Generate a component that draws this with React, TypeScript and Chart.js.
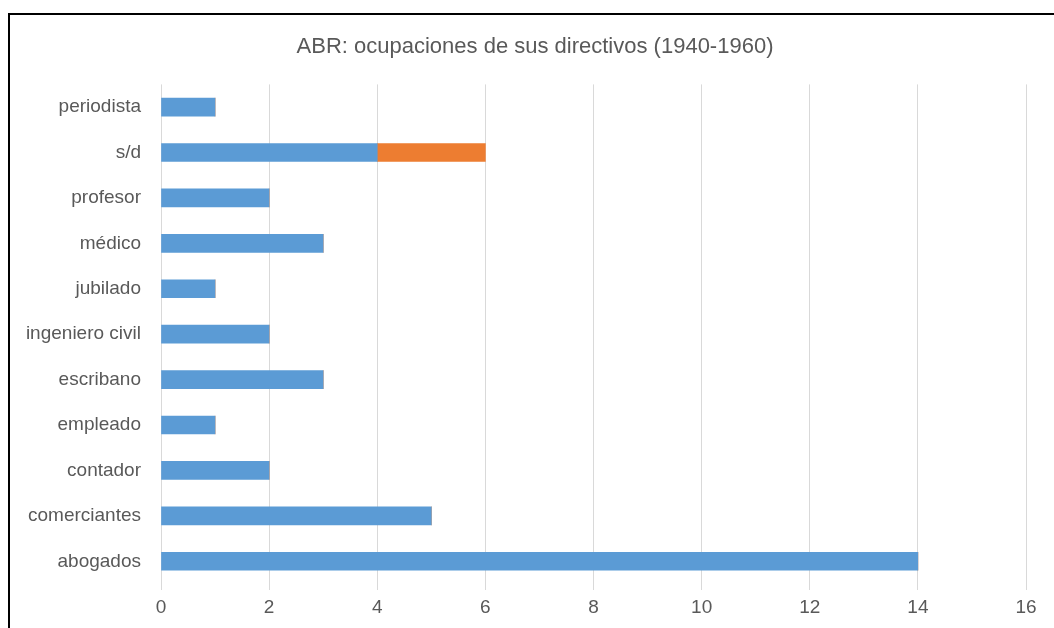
import React, { useEffect, useRef } from "react";
import { Chart, registerables } from "chart.js";

Chart.register(...registerables);

const categories = [
  "periodista",
  "s/d",
  "profesor",
  "médico",
  "jubilado",
  "ingeniero civil",
  "escribano",
  "empleado",
  "contador",
  "comerciantes",
  "abogados",
];
const seriesBlue = [1, 4, 2, 3, 1, 2, 3, 1, 2, 5, 14];
const seriesOrange = [0, 2, 0, 0, 0, 0, 0, 0, 0, 0, 0];
const xTicks = [0, 2, 4, 6, 8, 10, 12, 14, 16];
const title = "ABR: ocupaciones de sus directivos (1940-1960)";

export default function App() {
  const ref = useRef<HTMLCanvasElement | null>(null);

  useEffect(() => {
    if (!ref.current) return;
    const textColor = "#595959";
    const font = "'Liberation Sans', Arial, Helvetica, sans-serif";
    const shiftTitle = {
      id: "shiftTitle",
      afterLayout(chart: any) {
        const tb = chart.titleBlock;
        if (tb) tb.left += 44;
      },
    };
    const chart = new Chart(ref.current, {
      type: "bar",
      data: {
        labels: categories,
        datasets: [
          {
            label: "Serie 1",
            data: seriesBlue,
            backgroundColor: "#5B9BD5",
            barThickness: 18,
          },
          {
            label: "Serie 2",
            data: seriesOrange,
            backgroundColor: "#ED7D31",
            barThickness: 18,
          },
        ],
      },
      plugins: [shiftTitle],
      options: {
        indexAxis: "y",
        animation: false,
        responsive: false,
        layout: { padding: { top: 34, left: 0, right: 28, bottom: 4 } },
        plugins: {
          legend: { display: false },
          tooltip: { enabled: false },
          title: {
            display: true,
            text: title,
            color: textColor,
            font: { family: font, size: 22, weight: "normal" },
            padding: { top: 0, bottom: 24 },
          },
        },
        scales: {
          x: {
            stacked: true,
            min: 0,
            max: 16,
            afterBuildTicks: (scale: any) => {
              scale.ticks = xTicks.map((v) => ({ value: v }));
            },
            afterFit: (scale: any) => {
              scale.height = 40;
            },
            grid: { color: "#d9d9d9", lineWidth: 1, tickLength: 6, drawTicks: true },
            border: { display: false },
            ticks: {
              color: textColor,
              font: { family: font, size: 19 },
              padding: 6,
            },
          },
          y: {
            stacked: true,
            grid: { display: false, drawTicks: false },
            border: { display: false },
            afterFit: (scale: any) => {
              scale.width = 161;
            },
            ticks: {
              color: textColor,
              font: { family: font, size: 19 },
              padding: 20,
            },
          },
        },
      },
    });
    return () => chart.destroy();
  }, []);

  return (
    <>
      <div
        style={{
          position: "fixed",
          left: 8,
          top: 13,
          right: 0,
          bottom: 0,
          borderTop: "2px solid #000",
          borderLeft: "2px solid #000",
          background: "#fff",
        }}
      />
      <canvas
        ref={ref}
        width={1054}
        height={628}
        style={{ position: "fixed", left: 0, top: 0, width: 1054, height: 628 }}
      />
    </>
  );
}
